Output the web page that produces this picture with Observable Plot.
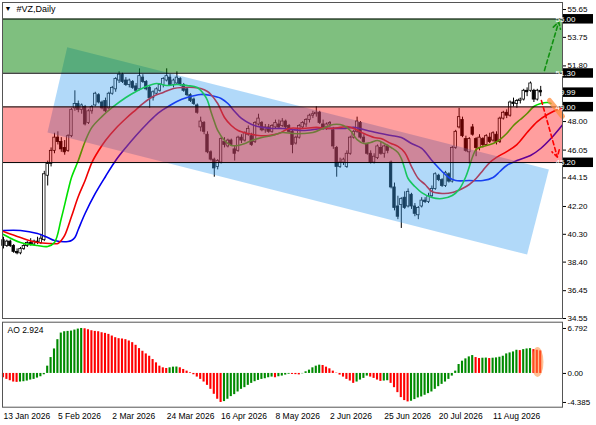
<!DOCTYPE html>
<html><head><meta charset="utf-8">
<style>
body{margin:0;background:#fff}
#wrap{position:relative;width:596px;height:425px;overflow:hidden;font-family:'Liberation Sans',Arial,sans-serif}
#wrap svg{display:block}
</style>
<script src="https://cdn.jsdelivr.net/npm/d3@7"></script>
<script src="https://cdn.jsdelivr.net/npm/@observablehq/plot@0.6"></script>
</head><body><div id="wrap"></div>
<script>
// ---------- data ----------
const symbolTitle = "#VZ,Daily";
const dateLabels = ["13 Jan 2026","5 Feb 2026","2 Mar 2026","24 Mar 2026","16 Apr 2026","8 May 2026","2 Jun 2026","25 Jun 2026","20 Jul 2026","11 Aug 2026"];
const dateIdx = [0,16,32,48,64,80,96,112,128,144];
const priceTicks = [55.65,53.75,51.80,48.00,46.05,44.15,42.20,40.30,38.40,36.45,34.55];
const levelValues = [55.00,51.30,49.00,45.20];
const bidPrice = 49.99;
const greenZone = [51.30,55.00];
const pinkZone = [45.20,49.00];

const opens = [39.9,39.5,39.8,39.5,39.1,39.0,39.3,39.5,39.7,39.6,39.8,39.7,39.9,44.3,45.1,46.0,46.9,46.6,46.2,46.0,
47.0,48.9,49.2,48.8,49.0,47.9,48.7,49.1,49.8,49.3,49.4,48.9,49.9,50.2,50.8,51.2,50.8,50.5,50.7,50.4,
50.2,51.0,50.7,50.3,49.6,49.9,50.1,50.5,50.8,51.0,50.5,50.6,50.9,50.5,50.2,49.8,49.5,49.1,47.6,47.9,
47.1,45.9,45.4,44.9,45.2,46.6,46.3,46.7,46.1,46.0,46.9,46.7,47.1,47.0,46.6,47.8,47.9,47.4,47.6,47.3,
47.6,47.8,47.7,48.0,47.7,47.3,46.5,46.9,47.6,47.8,48.1,48.4,48.5,48.6,47.8,47.6,47.8,47.4,46.2,44.9,
45.2,44.9,45.8,46.9,47.3,47.9,46.9,46.4,45.8,45.2,45.5,46.2,45.8,46.3,45.2,43.5,42.2,42.3,42.8,42.2,
43.0,42.2,41.6,42.2,42.6,42.5,42.9,43.4,44.3,44.0,43.6,44.4,43.9,46.2,47.6,48.1,46.8,45.9,47.6,46.8,
46.2,46.8,46.4,46.9,46.7,47.1,46.6,48.2,48.6,48.4,49.3,49.2,49.4,49.5,50.1,50.1,50.1,49.5,50.1];
const highs = [40.1,39.9,39.9,39.6,39.3,39.4,39.6,39.8,40.0,39.9,40.1,40.3,44.6,45.3,46.2,47.2,47.3,46.9,46.7,47.1,
48.9,50.1,49.4,49.2,49.1,48.8,49.1,50.0,49.9,49.4,49.6,50.0,50.4,51.0,51.4,51.3,51.0,50.9,50.8,50.6,
51.6,51.2,50.8,50.4,50.1,50.3,50.6,51.0,51.6,51.2,50.9,51.4,51.0,50.6,50.3,49.9,49.6,49.2,48.3,48.0,
47.3,46.0,45.5,45.4,46.9,46.9,46.8,46.8,46.3,47.0,47.1,47.3,47.7,47.2,48.0,48.5,48.0,47.8,47.8,47.8,
48.1,48.1,48.2,48.1,47.8,47.4,47.0,47.8,48.0,48.2,48.5,48.7,49.0,48.7,48.1,47.9,48.0,47.6,46.3,45.5,
45.5,46.0,47.0,47.4,48.3,48.0,47.1,46.5,46.0,45.8,46.4,46.6,46.4,46.4,45.3,43.8,42.9,42.8,43.2,43.4,
43.1,42.4,42.2,42.8,42.8,43.1,43.6,44.5,44.4,44.1,44.6,44.5,46.3,47.4,48.9,48.3,47.0,46.9,47.8,46.9,
47.1,46.9,47.1,47.2,47.3,47.3,48.3,48.7,48.8,49.4,49.6,49.5,49.6,50.2,50.3,50.7,50.2,50.2,50.4];
const lows = [39.3,39.4,39.4,39.0,38.9,38.9,39.2,39.4,39.5,39.5,39.6,39.6,39.8,43.6,44.9,45.8,46.4,45.9,45.7,45.9,
46.9,48.7,48.6,48.5,47.7,47.8,48.5,49.0,49.2,48.8,48.6,48.8,49.8,50.0,50.6,50.6,50.4,50.3,50.2,50.0,
50.1,50.6,50.1,48.9,49.4,49.8,50.0,50.3,50.7,50.4,50.3,50.5,50.4,50.0,49.7,49.3,49.1,48.5,47.3,47.1,
45.8,45.3,44.2,44.7,45.1,46.2,46.2,46.3,45.3,45.9,46.5,46.6,47.0,46.3,46.5,47.7,47.3,47.2,47.2,47.2,
47.5,47.5,47.6,47.5,47.2,45.8,46.4,46.8,47.5,47.6,47.9,48.2,48.3,47.8,47.4,47.4,47.6,46.1,44.2,44.8,
45.0,44.8,45.7,46.8,47.2,46.8,46.5,45.7,45.1,45.1,45.4,45.7,45.5,45.8,43.4,41.9,41.3,40.7,42.0,42.1,
42.0,41.5,41.3,42.1,42.4,42.4,42.8,43.3,43.9,43.5,43.5,43.8,43.8,46.1,47.5,46.9,45.9,45.1,47.0,45.6,
46.0,46.2,46.3,46.5,46.6,46.4,46.5,48.1,48.2,48.3,49.0,48.9,49.2,49.4,49.7,50.0,49.3,49.4,49.7];
const closes = [39.5,39.8,39.5,39.1,39.0,39.3,39.5,39.7,39.6,39.8,39.7,40.0,44.4,45.1,46.0,46.9,46.6,46.1,45.9,47.0,
48.8,49.2,48.8,49.1,47.8,48.7,49.0,49.9,49.3,48.9,48.7,49.9,50.3,50.9,51.2,50.7,50.5,50.8,50.3,50.1,
51.1,50.7,50.2,49.6,50.0,50.2,50.5,50.9,51.1,50.5,50.8,51.0,50.5,50.1,49.8,49.4,49.2,48.6,48.0,47.3,
45.9,45.4,44.8,45.3,46.8,46.4,46.7,46.4,45.8,46.9,46.7,47.2,47.5,46.4,47.9,48.2,47.4,47.6,47.3,47.7,
47.9,47.6,48.0,47.6,47.3,46.4,46.9,47.7,47.9,48.1,48.4,48.5,48.6,47.9,47.6,47.8,47.9,46.3,44.9,45.2,
45.4,45.8,46.9,47.3,48.0,46.9,46.6,45.8,45.2,45.6,46.3,45.8,46.3,46.0,43.5,42.1,41.5,42.7,42.1,43.2,
42.2,41.7,42.1,42.6,42.5,42.9,43.4,44.4,44.0,43.6,44.5,43.9,46.2,47.3,48.3,47.0,46.0,46.8,47.1,46.2,
46.9,46.4,47.0,46.6,47.2,46.6,48.2,48.6,48.4,49.3,49.2,49.4,49.5,50.1,50.0,50.6,49.5,50.1,49.99];

// Alligator lines: [bar index, price]
const jawPts = [[0,40.56],[5,40.56],[10,40.35],[13,40.08],[15,39.88],[19,39.81],[20,39.88],[21,40.08],[22,40.63],[24,41.72],[27,43.09],[30,44.25],[33,45.34],[36,46.23],[39,47.05],[42,47.80],[45,48.48],[48,48.96],[51,49.37],[54,49.64],[58,49.85],[61,49.78],[64,49.58],[66,49.23],[68,48.69],[70,48.21],[73,47.80],[76,47.60],[79,47.53],[82,47.53],[88,47.39],[94,47.53],[100,47.53],[103,47.60],[107,47.39],[111,47.18],[114,47.05],[117,46.91],[120,46.50],[123,46.16],[126,45.34],[129,44.59],[131,44.18],[133,43.97],[137,43.97],[141,43.97],[144,44.18],[146,44.59],[148,45.00],[151,45.34],[155,45.68],[158,46.16],[161,46.84],[164.5,47.80]];
const teethPts = [[0,40.49],[5,40.08],[10,39.74],[14,39.67],[16,39.67],[17,39.88],[18,40.22],[20,41.51],[22,42.88],[24,43.97],[26,45.20],[28,46.02],[30,46.71],[33,47.53],[36,48.21],[39,48.82],[41,49.23],[44,49.71],[47,49.99],[50,50.26],[53,50.33],[56,50.33],[58,50.26],[60,50.05],[61,49.85],[63,49.23],[65,48.28],[67,47.73],[69,47.39],[72,47.18],[75,47.05],[78,47.05],[81,47.18],[84,47.53],[88,47.53],[92,47.60],[96,47.53],[99,47.60],[101,47.66],[103,47.53],[106,47.18],[109,46.91],[111,46.84],[114,46.50],[116,46.30],[118,45.89],[120,44.93],[122,44.11],[124,43.70],[126,43.22],[129,43.09],[132,43.15],[135,43.43],[137,43.70],[139,44.11],[141,44.66],[143,45.20],[145,45.55],[148,45.95],[151,46.43],[154,47.25],[157,48.00],[160,48.48],[163,48.82],[164.5,48.89]];
const lipsPts = [[0,40.29],[5,39.74],[10,39.53],[13,39.47],[15,39.74],[17,41.38],[19,43.29],[20,44.18],[22,45.34],[24,46.64],[26,47.60],[29,48.35],[32,48.96],[36,49.64],[39,50.05],[42,50.39],[45,50.60],[48,50.46],[51,50.53],[54,50.46],[57,50.33],[59,49.85],[60,49.44],[61,48.69],[62,48.00],[63,47.39],[65,46.71],[67,46.37],[69,46.37],[71,46.50],[73,46.71],[76,46.91],[79,47.05],[82,47.25],[85,47.18],[88,47.18],[91,47.25],[94,47.53],[97,47.80],[100,47.73],[102,47.39],[104,46.77],[106,46.50],[108,46.57],[110,46.71],[112,46.50],[114,46.23],[116,45.89],[117,45.48],[118,44.79],[119,44.11],[121,43.56],[123,43.15],[126,42.81],[129,42.74],[132,42.95],[134,43.36],[136,44.25],[138,45.61],[139,46.09],[141,46.30],[144,46.50],[146,46.77],[148,47.18],[150,47.73],[152,48.14],[154,48.55],[156,49.03],[158,49.23],[160,49.30],[161,49.23]];

// annotations [bar index, price]
const channelPts = [[18.74,53.08],[160.4,44.73],[154.0,38.92],[12.94,47.25]];
const upArrow = [[159.1,51.49],[163.3,54.80]];
const downArrow = [[158.2,49.44],[162.9,45.57]];
const orangeMark = [[160.6,49.44],[164.4,48.35]];

// Awesome Oscillator
const aoLabel = "AO 2.924";
const aoTicks = [6.792,0,-4.385];
const aoValues = [-0.65,-0.9,-1.1,-1.3,-1.35,-1.3,-1.25,-1.15,-1.0,-0.9,
-0.7,-0.5,-0.2,1.1,2.4,3.7,5.1,6.1,6.3,6.35,
6.4,6.55,6.7,6.792,6.75,6.6,6.45,6.35,6.3,6.15,
6.05,5.9,5.65,5.4,5.25,5.2,5.1,4.9,4.65,4.25,
3.75,3.35,2.95,2.6,2.1,1.6,1.1,0.85,0.75,0.85,
0.95,0.97,0.85,0.6,0.35,0.1,-0.2,-0.55,-0.9,-1.3,
-1.8,-2.4,-3.15,-3.9,-4.385,-4.25,-3.9,-3.5,-3.2,-2.8,
-2.4,-2.15,-1.8,-1.5,-1.25,-1.05,-0.9,-0.8,-0.65,-0.55,
-0.65,-0.5,-0.4,-0.25,-0.12,-0.15,-0.18,-0.22,-0.05,0.25,
0.5,0.85,1.1,1.25,1.2,0.95,0.7,0.35,0.05,-0.25,
-0.55,-0.9,-1.15,-1.5,-1.3,-1.0,-0.75,-0.4,-0.55,-0.75,
-1.0,-1.2,-1.15,-1.1,-1.5,-2.15,-2.9,-3.65,-4.1,-4.3,
-4.2,-3.95,-3.7,-3.55,-3.3,-3.05,-2.8,-2.4,-2.0,-1.65,
-1.3,-0.9,-0.4,0.35,1.35,1.85,2.2,2.5,2.7,2.4,
2.25,2.3,2.32,2.25,2.3,2.35,2.45,2.6,2.95,3.1,
3.25,3.5,3.45,3.6,3.7,3.75,3.6,3.5,3.4];
const aoColorCodes = "r".repeat(5)+"g".repeat(19)+"r".repeat(25)+"g".repeat(3)+"r".repeat(13)+"g".repeat(15)+"r"+"g".repeat(4)+"r".repeat(3)+"g".repeat(6)+"r".repeat(10)+"g".repeat(4)+"r".repeat(4)+"g".repeat(2)+"r".repeat(6)+"g".repeat(19)+"r".repeat(2)+"g".repeat(2)+"r"+"g".repeat(8)+"r"+"g".repeat(3)+"r".repeat(3);

// ---------- build ----------
const FONT = "'Liberation Sans', Arial, sans-serif";
const xDomain = [-0.29, 164.41];
const candles = opens.map((o,i)=>({i, o, h: highs[i], l: lows[i], c: closes[i]}));
const bulls = candles.filter(d=>d.c>=d.o), bears = candles.filter(d=>d.c<d.o);
const ao = aoValues.map((v,i)=>({i, v, up: aoColorCodes[i]==="g"}));

const main = Plot.plot({
  width: 596, height: 320, marginLeft: 2, marginRight: 34, marginTop: 2, marginBottom: 2,
  style: {fontFamily: FONT, fontSize: "8px", background: "#fff", overflow: "visible", color: "#000"},
  x: {domain: xDomain, axis: null},
  y: {domain: [34.55, 56.13], axis: "right", ticks: priceTicks, tickFormat: d=>d.toFixed(2), tickSize: 3, tickPadding: 2, label: null},
  marks: [
    Plot.ruleX(candles, {x: "i", y1: "l", y2: "h", stroke: "#000", strokeWidth: 1}),
    Plot.rect(bulls, {x1: d=>d.i-0.36, x2: d=>d.i+0.36, y1: "o", y2: "c", fill: "#fff", stroke: "#000", strokeWidth: 0.8}),
    Plot.rect(bears, {x1: d=>d.i-0.36, x2: d=>d.i+0.36, y1: "o", y2: "c", fill: "#000", stroke: "#000", strokeWidth: 0.8}),
    Plot.line(jawPts, {x: d=>d[0], y: d=>d[1], stroke: "#0000f0", strokeWidth: 1.6, curve: "catmull-rom", clip: true}),
    Plot.line(teethPts, {x: d=>d[0], y: d=>d[1], stroke: "#f00000", strokeWidth: 1.6, curve: "catmull-rom", clip: true}),
    Plot.line(lipsPts, {x: d=>d[0], y: d=>d[1], stroke: "#00e000", strokeWidth: 1.6, curve: "catmull-rom", clip: true}),
    Plot.line(channelPts, {x: d=>d[0], y: d=>d[1], fill: "#3ca0f0", fillOpacity: 0.4, stroke: "none"}),
    Plot.rect([greenZone], {y1: d=>d[0], y2: d=>d[1], fill: "#008000", fillOpacity: 0.5}),
    Plot.rect([pinkZone], {y1: d=>d[0], y2: d=>d[1], fill: "#ff0000", fillOpacity: 0.38}),
    Plot.ruleY(levelValues, {stroke: "#000", strokeWidth: 1}),
    Plot.link([orangeMark], {x1: d=>d[0][0], y1: d=>d[0][1], x2: d=>d[1][0], y2: d=>d[1][1], stroke: "#ff8c3c", strokeOpacity: 0.75, strokeWidth: 5, strokeLinecap: "round"}),
    Plot.arrow([upArrow], {x1: d=>d[0][0], y1: d=>d[0][1], x2: d=>d[1][0], y2: d=>d[1][1], stroke: "#119011", strokeWidth: 1.6, strokeDasharray: "4,3", headLength: 7}),
    Plot.arrow([downArrow], {x1: d=>d[0][0], y1: d=>d[0][1], x2: d=>d[1][0], y2: d=>d[1][1], stroke: "#ff0000", strokeWidth: 1.6, strokeDasharray: "4,3", headLength: 7}),
    Plot.frame({stroke: "#555"}),
    Plot.text(["▼"], {frameAnchor: "top-left", dx: 2, dy: 4, fontSize: 7, fill: "#000"}),
    Plot.text([symbolTitle], {frameAnchor: "top-left", dx: 14, dy: 3, fontSize: 9, fill: "#000"})
  ]
});

// price label boxes positioned with the plot's own y scale
const ys = main.scale("y");
const msvg = d3.select(main);
function priceBox(v, bg){
  const y = ys.apply(v);
  msvg.append("rect").attr("x",563).attr("y",y-4.5).attr("width",30).attr("height",9.5).attr("fill",bg);
  msvg.append("text").attr("x",565.5).attr("y",y+0.3).attr("dy","0.35em").attr("fill","#fff")
    .attr("font-size",8).attr("font-family",FONT).text(v.toFixed(2));
}
levelValues.forEach(v=>priceBox(v,"#000"));
priceBox(bidPrice,"#000");

const aoPlot = Plot.plot({
  width: 596, height: 105, marginLeft: 2, marginRight: 34, marginTop: 1.7, marginBottom: 18.3,
  style: {fontFamily: FONT, fontSize: "8px", background: "#fff", overflow: "visible", color: "#000"},
  x: {domain: xDomain, axis: null},
  y: {domain: [-5.1, 7.74], axis: "right", ticks: aoTicks, tickFormat: d=> d===0 ? "0.00" : String(d), tickSize: 3, tickPadding: 2, label: null},
  marks: [
    Plot.rect(ao.filter(d=>d.up), {x1: d=>d.i-0.31, x2: d=>d.i+0.31, y1: 0, y2: "v", fill: "#008a00"}),
    Plot.rect(ao.filter(d=>!d.up), {x1: d=>d.i-0.31, x2: d=>d.i+0.31, y1: 0, y2: "v", fill: "#ff0000"}),
    Plot.frame({stroke: "#555"}),
    Plot.text([aoLabel], {frameAnchor: "top-left", dx: 5, dy: 5, fontSize: 8.5, fill: "#000"}),
    Plot.text(dateIdx, {x: d=>d, text: (d,i)=>dateLabels[i], frameAnchor: "bottom", textAnchor: "start", lineAnchor: "middle", dy: 9.5, fontSize: 8.5, fill: "#000"})
  ]
});
const axs = aoPlot.scale("x"), ayS = aoPlot.scale("y");
const asvg = d3.select(aoPlot);
asvg.append("ellipse").attr("cx", axs.apply(157.2)).attr("cy", ayS.apply(1.65)).attr("rx",6).attr("ry",15)
  .attr("fill","#ff8c3c").attr("fill-opacity",0.55);

const wrap = document.getElementById("wrap");
wrap.appendChild(main);
wrap.appendChild(aoPlot);
</script>
</body></html>
